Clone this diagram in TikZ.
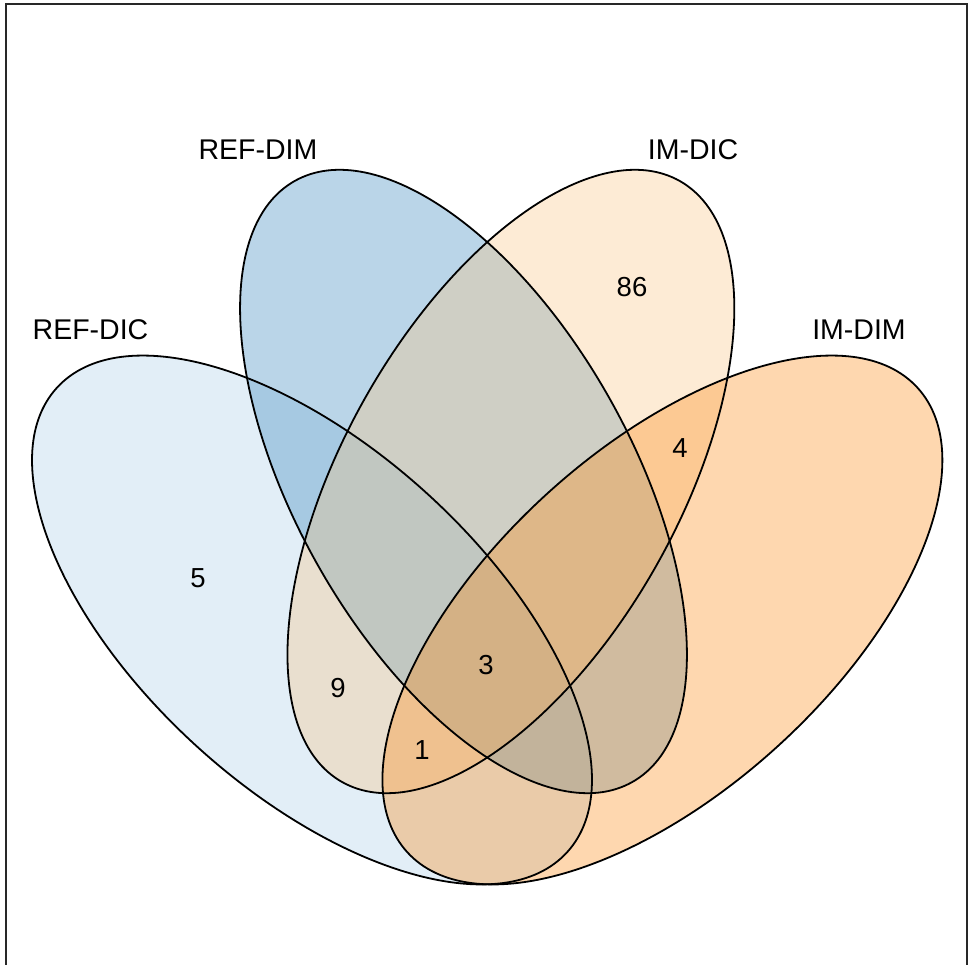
\documentclass[tikz,border=0pt]{standalone}
\usepackage{fontspec}
\setmainfont{Liberation Sans}
\definecolor{cA}{RGB}{168,204,231}
\definecolor{cB}{RGB}{48,129,186}
\definecolor{cC}{RGB}{249,195,129}
\definecolor{cD}{RGB}{252,135,15}
\definecolor{framec}{RGB}{40,40,40}
\begin{document}
\begin{tikzpicture}[x=1pt,y=1pt,
  lab/.style={font=\fontsize{28.5}{34}\selectfont, inner sep=0pt},
  num/.style={font=\fontsize{27.5}{33}\selectfont, inner sep=0pt},
  setfill/.style={fill opacity=0.3333},
  outline/.style={draw=black, line width=1.8pt},
  framestyle/.style={draw=framec, line width=2.6pt}]
\useasboundingbox (0,0) rectangle (969,965);
\fill[white] (0,0) rectangle (969,965);
% fills
\fill[cA, setfill, rotate around={-42.3:(312,345)}] (312,345) ellipse [x radius=345, y radius=171];
\fill[cB, setfill, rotate around={-60.7:(463.5,483.5)}] (463.5,483.5) ellipse [x radius=344.7, y radius=168];
\fill[cC, setfill, rotate around={60.7:(510.9,483.5)}] (510.9,483.5) ellipse [x radius=344.7, y radius=168];
\fill[cD, setfill, rotate around={42.3:(662.4,345)}] (662.4,345) ellipse [x radius=345, y radius=171];
% outlines
\draw[outline, rotate around={-42.3:(312,345)}] (312,345) ellipse [x radius=345, y radius=171];
\draw[outline, rotate around={-60.7:(463.5,483.5)}] (463.5,483.5) ellipse [x radius=344.7, y radius=168];
\draw[outline, rotate around={60.7:(510.9,483.5)}] (510.9,483.5) ellipse [x radius=344.7, y radius=168];
\draw[outline, rotate around={42.3:(662.4,345)}] (662.4,345) ellipse [x radius=345, y radius=171];
% labels
\node[lab] (refdic) at (90.5,635) {REF-DIC};
\node[lab] (refdim) at (258,815) {REF-DIM};
\node[lab] (imdic) at (693,815) {IM-DIC};
\node[lab] (imdim) at (859,635) {IM-DIM};
% counts
\node[num] (n5) at (198,387) {5};
\node[num] (n86) at (632,678) {86};
\node[num] (n4) at (680,517) {4};
\node[num] (n9) at (338,277) {9};
\node[num] (n3) at (486,300) {3};
\node[num] (n1) at (422,215) {1};
% frame
\draw[framestyle] (6,-10) -- (6,961) -- (967,961) -- (967,-10);
\end{tikzpicture}
\end{document}
